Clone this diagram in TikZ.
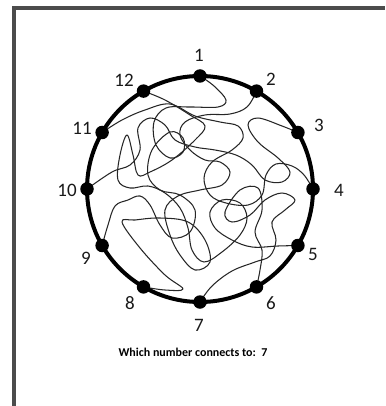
\documentclass[tikz,border=0pt]{standalone}
\usepackage{fontspec}
\setmainfont{Carlito}
\begin{document}
\begin{tikzpicture}[x=1pt,y=-1pt,
  dot/.style={circle,fill=black,inner sep=0pt,minimum size=13.5pt},
  lbl/.style={font=\fontsize{19}{22}\selectfont,text=black!90,inner sep=0pt},
  wire/.style={line width=1.05pt,black!85,line join=round},
  rim/.style={line width=4pt,black},
  frame/.style={line width=4pt,black!70}]
\useasboundingbox[fill=white] (0,0) rectangle (385,406);
\draw[frame] (14,406) -- (14,8.5) -- (385,8.5);
% node positions
\coordinate (c) at (200,189);
\coordinate (p1) at (200,76);
\coordinate (p2) at (256.5,91.1);
\coordinate (p3) at (297.9,132.5);
\coordinate (p4) at (313,189);
\coordinate (p5) at (297.9,245.5);
\coordinate (p6) at (256.5,286.9);
\coordinate (p7) at (200,302);
\coordinate (p8) at (143.5,286.9);
\coordinate (p9) at (102.1,245.5);
\coordinate (p10) at (87,189);
\coordinate (p11) at (102.1,132.5);
\coordinate (p12) at (143.5,91.1);
% wires
\draw[wire] plot[smooth,tension=0.6] coordinates {(p1) (214,86) (226,100) (218,107) (190,107) (166,108) (154,122) (156,145) (170,158) (183,152) (183,138) (170,132) (152,150) (148,175) (160,190) (180,195) (195,210) (190,232) (172,238) (160,225) (150,205) (140,196) (128,200) (115,206) (108,225) (p9)};
\draw[wire] plot[smooth,tension=0.6] coordinates {(p2) (247,107) (230,114) (205,115) (185,122) (180,135) (190,150) (205,160) (220,162) (230,172) (222,185) (200,190) (178,196) (165,210) (170,235) (180,255) (195,270) (210,262) (205,240) (188,222) (160,218) (135,220) (122,222) (140,248) (165,275) (183,289) (165,290) (p8)};
\draw[wire] plot[smooth,tension=0.6] coordinates {(p3) (282,126) (258,118) (248,125) (258,142) (278,158) (290,172) (282,182) (265,180) (252,165) (236,155) (215,150) (195,147) (175,140) (165,125) (150,118) (138,128) (140,150) (130,165) (112,172) (p10)};
\draw[wire] plot[smooth,tension=0.6] coordinates {(p4) (304,175) (292,166) (276,164) (266,175) (262,195) (248,205) (226,203) (210,195) (204,178) (212,162) (232,150) (243,138) (238,126) (220,122) (195,116) (170,104) (145,110) (122,120) (p11)};
\draw[wire] plot[smooth,tension=0.6] coordinates {(p5) (278,246) (252,247) (232,240) (215,228) (210,212) (222,200) (240,203) (247,218) (240,235) (222,252) (204,262) (192,250) (188,228) (180,208) (165,193) (148,186) (130,188) (118,180) (120,155) (127,135) (133,155) (138,175) (150,172) (172,160) (195,140) (205,126) (190,115) (165,100) (p12)};
\draw[wire] plot[smooth,tension=0.6] coordinates {(p7) (212,286) (232,271) (255,262) (270,256) (276,240) (272,222) (285,210) (295,200) (282,193) (265,200) (250,215) (232,222) (225,212) (240,190) (258,188) (262,210) (255,232) (262,250) (260,270) (p6)};
% rim and dots
\draw[rim] (c) circle[radius=113];
\foreach \i in {1,...,12} \node[dot] (d\i) at (p\i) {};
% labels
\node[lbl] (l1) at (199,55) {1};
\node[lbl] (l2) at (271,79) {2};
\node[lbl] (l3) at (319,125) {3};
\node[lbl] (l4) at (339,190) {4};
\node[lbl] (l5) at (313,254) {5};
\node[lbl] (l6) at (271,303) {6};
\node[lbl] (l7) at (199,325) {7};
\node[lbl] (l8) at (130,303) {8};
\node[lbl] (l9) at (86,258) {9};
\node[lbl] (l10) at (67,190) {10};
\node[lbl] (l11) at (82,128) {11};
\node[lbl] (l12) at (124,80) {12};
\node[font=\fontsize{12}{14}\selectfont\bfseries,inner sep=0pt] (q) at (193,352) {Which number connects to:\ \ 7};
\end{tikzpicture}
\end{document}
